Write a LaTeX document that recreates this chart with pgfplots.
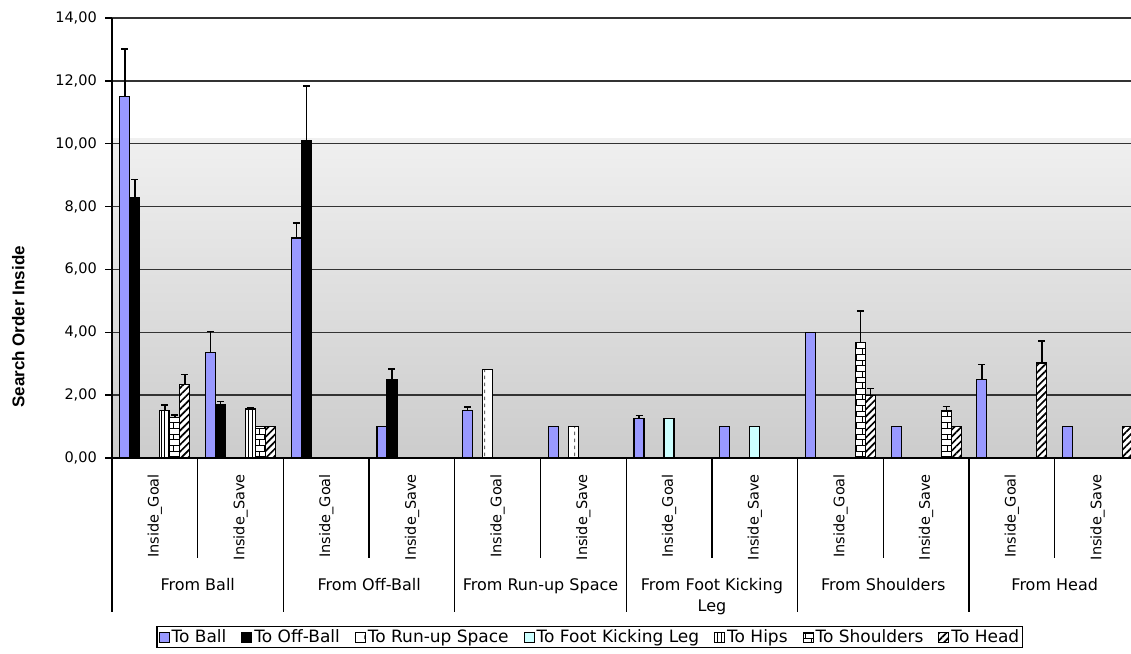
\documentclass[border=0pt]{standalone}
\usepackage{fontspec}
\setmainfont{DejaVu Sans}
\newfontfamily\labfont{Liberation Sans}
\usepackage{pgfplots}
\pgfplotsset{compat=1.18}
\usetikzlibrary{patterns,patterns.meta}

\definecolor{toball}{HTML}{9999FF}
\definecolor{tofoot}{HTML}{CCFFFF}

\tikzdeclarepattern{
  name=vdash,
  type=uncolored,
  bounding box={(0pt,0pt) and (10pt,7pt)},
  tile size={(10pt,7pt)},
  code={\draw[line width=1.2pt] (5pt,1pt) -- (5pt,5pt);}
}

\pgfplotsset{
  sq/.style={legend image code/.code={\draw[##1,line width=1pt] (0pt,-5pt) rectangle (10pt,5pt);}},
  errs/.style={forget plot, draw=none, fill=none, bar shift=#1,
    error bars/.cd, y dir=plus, y explicit,
    error bar style={draw=black, line width=1.3pt},
    error mark options={draw=black, rotate=90, mark size=3.5pt, line width=1.5pt}},
}

\begin{document}
\begin{tikzpicture}
\begin{axis}[
  set layers,
  scale only axis, width=1019pt, height=440pt,
  at={(0,0)}, anchor=south west,
  xmin=-0.5, xmax=11.39, ymin=0, ymax=14,
  ybar=0pt, bar width=10pt,
  clip=false,
  axis lines=left, axis line style={-, line width=1.4pt, black},
  ytick={0,2,...,14}, ymajorgrids, grid style={line width=1.3pt, black!80},
  xtick={0,...,11},
  xticklabels={Inside\_Goal,Inside\_Save,Inside\_Goal,Inside\_Save,Inside\_Goal,Inside\_Save,
               Inside\_Goal,Inside\_Save,Inside\_Goal,Inside\_Save,Inside\_Goal,Inside\_Save},
  x tick style={draw=none},
  y tick style={line width=1.3pt, black},
  tick align=outside, major tick length=7pt,
  xticklabel style={rotate=90, anchor=east, inner sep=0pt, font=\fontsize{14.5}{16}\selectfont},
  xticklabel shift=9pt,
  yticklabel style={inner sep=0pt, font=\fontsize{14.5}{16}\selectfont,
    /pgf/number format/.cd, fixed, fixed zerofill, precision=2, use comma, assume math mode=true},
  yticklabel shift=8pt,
  legend style={at={(axis description cs:0.469,-0.407)}, anchor=center,
    legend columns=-1, draw=black, line width=1.2pt, inner sep=1.5pt,
    font=\fontsize{17}{18}\selectfont,
    /tikz/every even column/.append style={column sep=13pt}},
]
\begin{pgfonlayer}{axis background}
\fill[top color=black!6, bottom color=black!20] (axis cs:-0.5,0) rectangle (axis cs:11.39,10.16);
\end{pgfonlayer}

% To Ball
\addplot[sq, bar shift=-30pt, fill=toball, draw=black, line width=1.2pt]
  coordinates {(0,11.51) (1,3.35) (2,7.0) (3,1) (4,1.52) (5,1) (6,1.26) (7,1) (8,4.0) (9,1) (10,2.5) (11,1)};
\addlegendentry{To Ball}
% To Off-Ball
\addplot[sq, bar shift=-20pt, fill=black, draw=black, line width=1.2pt]
  coordinates {(0,8.29) (1,1.69) (2,10.1) (3,2.49)};
\addlegendentry{To Off-Ball}
% To Run-up Space
\addplot[sq, bar shift=-10pt, fill=white, draw=black, line width=1.2pt,
  postaction={pattern=vdash, pattern color=black!60}]
  coordinates {(4,2.81) (5,1)};
\addlegendentry{To Run-up Space}
% To Foot Kicking Leg
\addplot[sq, bar shift=0pt, fill=tofoot, draw=black, line width=1.2pt]
  coordinates {(6,1.26) (7,1)};
\addlegendentry{To Foot Kicking Leg}
% To Hips
\addplot[sq, bar shift=10pt, fill=white, draw=black, line width=1.2pt,
  postaction={pattern={Lines[angle=90,distance=3.5pt,line width=0.9pt]}}]
  coordinates {(0,1.51) (1,1.56)};
\addlegendentry{To Hips}
% To Shoulders
\addplot[sq, bar shift=20pt, fill=white, draw=black, line width=1.2pt,
  postaction={pattern=bricks}]
  coordinates {(0,1.30) (1,1) (8,3.68) (9,1.5)};
\addlegendentry{To Shoulders}
% To Head
\addplot[sq, bar shift=30pt, fill=white, draw=black, line width=1.2pt,
  postaction={pattern={Lines[angle=45,distance=5pt,line width=1.7pt]}}]
  coordinates {(0,2.33) (1,1) (8,2.0) (9,1) (10,3.02) (11,1)};
\addlegendentry{To Head}

% error bars (plus direction only)
\addplot[errs=-30pt] coordinates {(0,11.51) +- (0,1.5) (1,3.35) +- (0,0.67) (2,7.0) +- (0,0.48)
  (4,1.52) +- (0,0.11) (6,1.26) +- (0,0.1) (10,2.5) +- (0,0.48)};
\addplot[errs=-20pt] coordinates {(0,8.29) +- (0,0.57) (1,1.69) +- (0,0.1) (2,10.1) +- (0,1.73) (3,2.49) +- (0,0.34)};
\addplot[errs=10pt] coordinates {(0,1.51) +- (0,0.18) (1,1.56) +- (0,0.03)};
\addplot[errs=20pt] coordinates {(0,1.30) +- (0,0.07) (8,3.68) +- (0,1.0) (9,1.5) +- (0,0.14)};
\addplot[errs=30pt] coordinates {(0,2.33) +- (0,0.32) (8,2.0) +- (0,0.21) (10,3.02) +- (0,0.71)};

% category separators below the axis
\pgfplotsinvokeforeach{-0.5,1.5,3.5,5.5,7.5,9.5}{
  \draw[line width=1.3pt] (axis cs:#1,0) -- ++(0pt,-154pt);
}
\pgfplotsinvokeforeach{0.5,2.5,4.5,6.5,8.5,10.5}{
  \draw[line width=1.3pt] (axis cs:#1,0) -- ++(0pt,-100pt);
}
% group labels
\begin{scope}[every node/.style={anchor=north, inner sep=0pt, align=center, font=\fontsize{16}{21}\selectfont}]
\node[yshift=-120pt] at (axis cs:0.5,0) {From Ball};
\node[yshift=-120pt] at (axis cs:2.5,0) {From Off-Ball};
\node[yshift=-120pt] at (axis cs:4.5,0) {From Run-up Space};
\node[yshift=-120pt] at (axis cs:6.5,0) {From Foot Kicking\\Leg};
\node[yshift=-120pt] at (axis cs:8.5,0) {From Shoulders};
\node[yshift=-120pt] at (axis cs:10.5,0) {From Head};
\end{scope}
\node[rotate=90, font=\labfont\bfseries\fontsize{17}{20}\selectfont] at (axis description cs:-0.092,0.298) {Search Order Inside};
\end{axis}
\pgfresetboundingbox
\useasboundingbox (-112pt,-195pt) rectangle (1019pt,458pt);
\end{tikzpicture}
\end{document}
